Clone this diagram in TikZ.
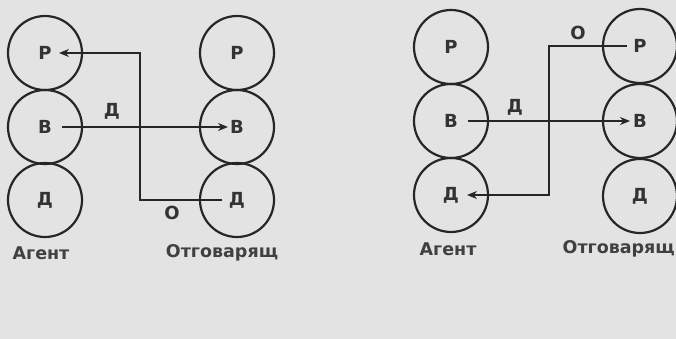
\documentclass[tikz,border=0pt]{standalone}
\usepackage{fontspec}
\setmainfont{DejaVu Sans}
\usetikzlibrary{arrows.meta}
\begin{document}
\begin{tikzpicture}[x=1pt,y=-1pt,
  ring/.style={circle,draw=black!85,line width=2.2pt,minimum size=74pt,inner sep=0pt,font=\bfseries\fontsize{18}{18}\selectfont,text=black!80},
  conn/.style={draw=black!85,line width=2.2pt},
  arr/.style={conn,-{Stealth[length=10pt,width=8pt]}},
  lbl/.style={font=\bfseries\fontsize{18}{18}\selectfont,text=black!80},
  captxt/.style={font=\bfseries\fontsize{17.5}{17.5}\selectfont,text=black!75}]
\useasboundingbox (0,0) rectangle (676,339);
\fill[black!11] (0,0) rectangle (676,339);
\coordinate (k1) at (140,0);
\coordinate (k2) at (549,0);
% left panel
\node[ring] (aP1) at (45,53) {Р};
\node[ring] (aB1) at (45,127) {В};
\node[ring] (aD1) at (45,200) {Д};
\node[ring] (rP1) at (237,53) {Р};
\node[ring] (rB1) at (237,127) {В};
\node[ring] (rD1) at (237,200) {Д};
\node[captxt] (ag1) at (41,253) {Агент};
\node[captxt] (ot1) at (222,253) {Отговарящ};
\draw[arr] ([xshift=17pt]aB1.center) -- ([xshift=-9pt]rB1.center);
\node[lbl] (d1) at (112,111) {Д};
\draw[arr] ([xshift=-15pt]rD1.center) -- (k1 |- rD1) |- ([xshift=14pt]aP1.center);
\node[lbl] (o1) at (172,213) {О};
% right panel
\node[ring] (aP2) at (451,47) {Р};
\node[ring] (aB2) at (451,121) {В};
\node[ring] (aD2) at (451,195) {Д};
\node[ring] (rP2) at (640,46) {Р};
\node[ring] (rB2) at (640,121) {В};
\node[ring] (rD2) at (640,196) {Д};
\node[captxt] (ag2) at (448,249) {Агент};
\node[captxt,anchor=east,inner sep=1pt] (ot2) at (676,249) {Отговарящ};
\draw[arr] ([xshift=17pt]aB2.center) -- ([xshift=-10pt]rB2.center);
\node[lbl] (d2) at (515,107) {Д};
\draw[arr] ([xshift=-13pt]rP2.center) -- (k2 |- rP2) |- ([xshift=16pt]aD2.center);
\node[lbl] (o2) at (578,33) {О};
\end{tikzpicture}
\end{document}
